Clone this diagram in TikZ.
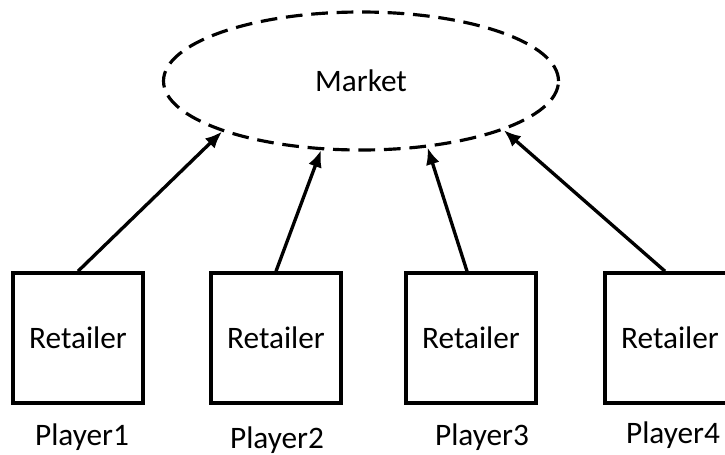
\documentclass[tikz,border=0pt]{standalone}
\usepackage{fontspec}
\setmainfont{Carlito}
\usetikzlibrary{shapes.geometric,arrows.meta}

\begin{document}
\begin{tikzpicture}[
	retailer/.style={shape=rectangle, draw, line width=2pt,
	minimum width=2.6cm, minimum height=2.6cm, inner sep=0pt},
	playerlbl/.style={inner sep=0pt},
	feed/.style={line width=1.9pt, -{Latex[length=0.34cm, width=0.28cm]}}]
	\useasboundingbox (0, 0) rectangle (14.5, 9.08);
	\fontsize{17.8}{21}\selectfont
	% Market ellipse:
	\node[shape=ellipse, draw, line width=1.8pt,
	dash pattern={on 9.5pt off 5pt}, minimum width=7.9cm,
	minimum height=2.76cm, inner sep=0pt] (M) at (7.22, 7.46){Market};
	
	% Retailer boxes and their players
	\node[retailer] (R1) at (1.56, 2.32){Retailer};
	\node[retailer] (R2) at (5.52, 2.32){Retailer};
	\node[retailer] (R3) at (9.42, 2.32){Retailer};
	\node[retailer] (R4) at (13.4, 2.32){Retailer};
	\node[playerlbl] (P1) at (1.64, 0.34){Player1};
	\node[playerlbl] (P2) at (5.54, 0.28){Player2};
	\node[playerlbl] (P3) at (9.64, 0.34){Player3};
	\node[playerlbl] (P4) at (13.46, 0.38){Player4};
	
	% Arrows up to the market
	\draw[feed] (R1.north) -- (M.200);
	\draw[feed] (R2.north) -- (M.240);
	\draw[feed] ([xshift=-0.08cm]R3.north) -- (M.315);
	\draw[feed] ([xshift=-0.1cm]R4.north) -- (M.341);
\end{tikzpicture}
\end{document}
